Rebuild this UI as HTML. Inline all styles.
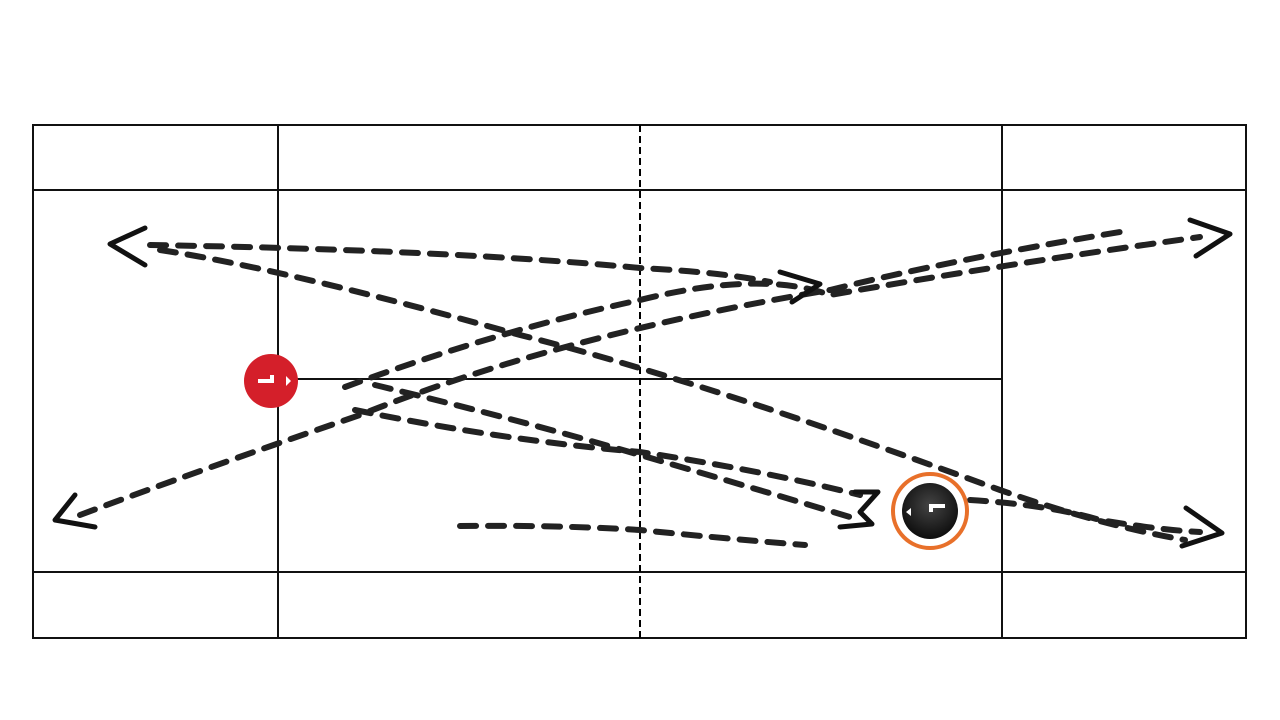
<!DOCTYPE html>
<html><head><meta charset="utf-8"><style>html,body{margin:0;padding:0;background:#fff;width:1280px;height:720px;overflow:hidden}</style></head>
<body>
<svg width="1280" height="720" viewBox="0 0 1280 720" xmlns="http://www.w3.org/2000/svg">
<defs>
<radialGradient id="bk" cx="0.5" cy="0.4" r="0.6"><stop offset="0" stop-color="#444"/><stop offset="1" stop-color="#0d0d0d"/></radialGradient>
</defs>
<g stroke="#111" stroke-width="2" fill="none">
<rect x="33" y="125" width="1213" height="513"/>
<line x1="33" y1="190" x2="1246" y2="190"/>
<line x1="33" y1="572" x2="1246" y2="572"/>
<line x1="278" y1="125" x2="278" y2="638"/>
<line x1="1002" y1="125" x2="1002" y2="638"/>
<line x1="278" y1="379" x2="1002" y2="379"/>
<line x1="640" y1="125" x2="640" y2="638" stroke="#000" stroke-width="2" stroke-dasharray="7,4"/>
</g>
<g stroke="#222" stroke-width="6" fill="none" stroke-linecap="round" stroke-dasharray="16,12">
<path d="M150,245 Q450,250 640,268 Q720,272 770,282"/>
<path d="M160,250 Q280,268 520,335 Q700,380 1000,490 Q1100,525 1185,540"/>
<path d="M80,515 Q200,470 360,415 Q560,335 830,290 Q950,260 1120,232"/>
<path d="M345,387 Q500,330 640,300 Q760,270 830,295 Q1000,265 1200,237"/>
<path d="M355,410 Q500,440 640,452 Q760,470 860,495"/>
<path d="M375,385 Q520,420 640,455 Q760,490 860,520"/>
<path d="M460,526 Q560,525 640,530 Q740,540 805,545"/>
<path d="M970,500 Q1050,505 1100,520 Q1160,530 1200,532"/>
</g>
<g stroke="#111" stroke-width="5" fill="none" stroke-linecap="round" stroke-linejoin="round">
<path d="M145,228 L110,244 L145,265"/>
<path d="M780,272 L820,284 L792,302"/>
<path d="M1190,220 L1230,234 L1196,256"/>
<path d="M1186,508 L1222,533 L1182,546"/>
<path d="M75,495 L55,520 L95,527"/>
<path d="M855,492 L878,492 L860,512 L872,524 L840,527"/>
</g>
<circle cx="271" cy="381" r="27" fill="#d41f2a"/>
<path d="M258,381 h14 v-6" stroke="#fff" stroke-width="4" fill="none"/>
<path d="M286,376 l5,5 l-5,5z" fill="#fff"/>
<circle cx="930" cy="511" r="37" fill="#fff" stroke="#e8702a" stroke-width="4"/>
<circle cx="930" cy="511" r="28" fill="url(#bk)"/>
<path d="M945,506 h-14 v6" stroke="#fff" stroke-width="4" fill="none"/>
<path d="M911,508 l-5,4 l5,4z" fill="#fff"/>
</svg>
</body></html>
